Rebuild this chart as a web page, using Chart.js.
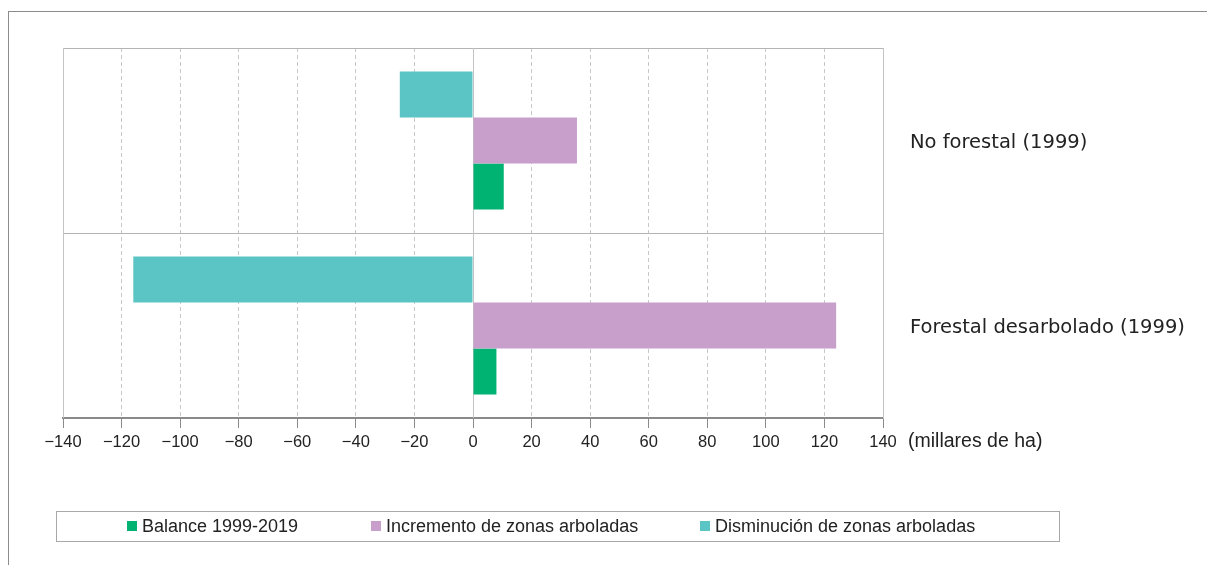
<!DOCTYPE html>
<html>
<head>
<meta charset="utf-8">
<script src="https://cdn.jsdelivr.net/npm/chart.js@4/dist/chart.umd.min.js"></script>
<style>
  html, body { margin: 0; padding: 0; background: #fff; }
  .frame {
    position: absolute; left: 8px; top: 11px; width: 1220px; height: 600px;
    border-top: 1px solid #8c8c8c; border-left: 1px solid #8c8c8c;
  }
  .wrap { position: absolute; left: 0; top: 0; width: 1207px; height: 565px; }
</style>
</head>
<body>
<div class="frame"></div>
<div class="wrap"><canvas id="chart" width="1207" height="565"></canvas></div>
<script>
const categories = ['No forestal (1999)', 'Forestal desarbolado (1999)'];
const disminucion = [-25, -116];
const incremento = [35.5, 124];
const balance = [10.5, 8];
const xTicks = [-140, -120, -100, -80, -60, -40, -20, 0, 20, 40, 60, 80, 100, 120, 140];
const unitLabel = '(millares de ha)';

// legend order differs from bar order (balance first)
const legendOrder = [2, 1, 0];
const legendX = [127, 371, 700];

const frameLines = {
  id: 'frameLines',
  beforeDatasetsDraw(chart) {
    const { ctx, chartArea: a, scales: { x } } = chart;
    ctx.save();
    ctx.strokeStyle = '#c4c4c4';
    ctx.lineWidth = 1;
    ctx.beginPath();
    ctx.moveTo(a.left + 0.5, a.top);
    ctx.lineTo(a.left + 0.5, a.bottom);
    const zx = Math.round(x.getPixelForValue(0)) + 0.5;
    ctx.moveTo(zx, a.top);
    ctx.lineTo(zx, a.bottom);
    ctx.stroke();
    ctx.restore();
  },
  afterDraw(chart) {
    const { ctx, chartArea: a } = chart;
    ctx.save();
    // unit label next to the last tick
    ctx.font = '19.5px "Liberation Sans", Arial, sans-serif';
    ctx.fillStyle = '#222';
    ctx.textBaseline = 'middle';
    ctx.textAlign = 'left';
    ctx.fillText(unitLabel, a.right + 25, 442);

    // legend box
    ctx.strokeStyle = '#a8a8a8';
    ctx.lineWidth = 1;
    ctx.strokeRect(56.5, 511.5, 1003, 30);
    ctx.font = '18px "Liberation Sans", Arial, sans-serif';
    legendOrder.forEach((di, i) => {
      const ds = chart.data.datasets[di];
      ctx.fillStyle = ds.backgroundColor;
      ctx.fillRect(legendX[i], 521, 10, 10);
      ctx.fillStyle = '#222';
      ctx.fillText(ds.label, legendX[i] + 15, 527);
    });
    ctx.restore();
  }
};

const ctx = document.getElementById('chart').getContext('2d');
const forestChart = new Chart(ctx, {
  type: 'bar',
  data: {
    labels: categories,
    datasets: [
      { label: 'Disminución de zonas arboladas', data: disminucion, backgroundColor: '#5bc5c6' },
      { label: 'Incremento de zonas arboladas', data: incremento, backgroundColor: '#c89fcb' },
      { label: 'Balance 1999-2019', data: balance, backgroundColor: '#00b373' }
    ]
  },
  options: {
    indexAxis: 'y',
    responsive: false,
    animation: false,
    categoryPercentage: 0.746,
    barPercentage: 1,
    layout: { padding: { left: 63, top: 48, right: 0, bottom: 0 } },
    plugins: {
      legend: { display: false },
      tooltip: { enabled: false }
    },
    scales: {
      x: {
        type: 'linear',
        min: -140,
        max: 140,
        afterBuildTicks: (scale) => { scale.ticks = xTicks.map(v => ({ value: v })); },
        afterFit: (scale) => { scale.height = 147; },
        grid: {
          color: '#c8c8c8',
          tickColor: '#8a8a8a',
          tickLength: 10,
          tickBorderDash: []
        },
        border: { color: '#8a8a8a', width: 2, dash: [4, 3] },
        ticks: {
          color: '#222',
          padding: 5,
          maxRotation: 0,
          font: { family: '"Liberation Sans", Arial, sans-serif', size: 16.5 },
          callback: (v) => (v < 0 ? '\u2212' + Math.abs(v) : String(v))
        }
      },
      y: {
        position: 'right',
        afterFit: (scale) => { scale.width = 324; },
        grid: { color: '#b4b4b4', drawTicks: false },
        border: { color: '#c4c4c4' },
        ticks: {
          color: '#222',
          padding: 27,
          labelOffset: 2,
          crossAlign: 'near',
          font: { family: '"DejaVu Sans", sans-serif', size: 19.5 }
        }
      }
    }
  },
  plugins: [frameLines]
});
</script>
</body>
</html>
